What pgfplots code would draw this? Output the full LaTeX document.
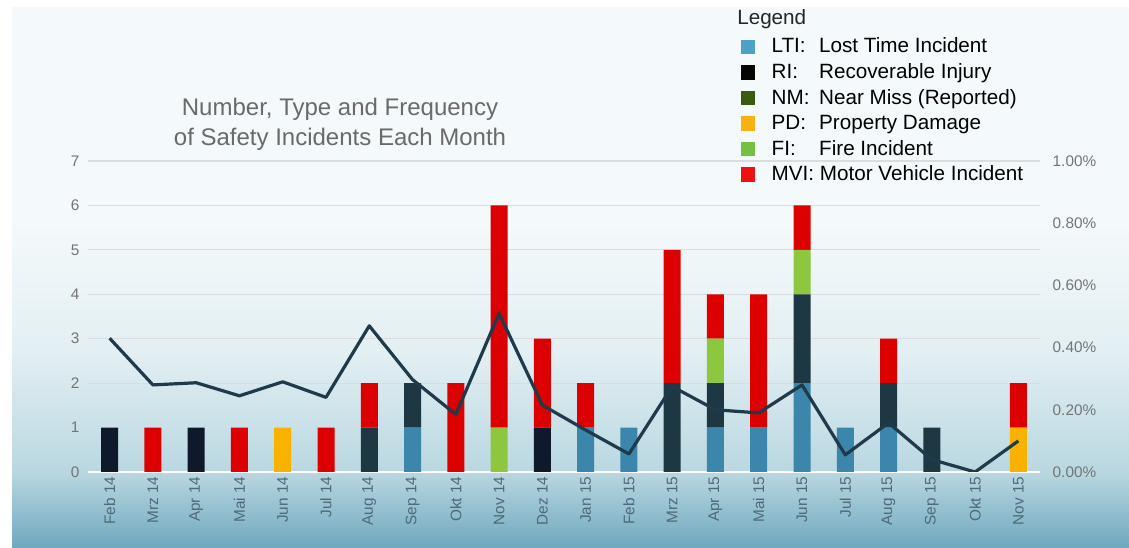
\documentclass[border=0pt]{standalone}
\usepackage{pgfplots}
\pgfplotsset{compat=1.18}
\usepackage{pgfplotstable}
\usepackage{fontspec}
\setmainfont{Liberation Sans}

\definecolor{bgtop}{HTML}{F4F9FB}
\definecolor{bgmid}{HTML}{E2EFF3}
\definecolor{bgmid2}{HTML}{B9D7E1}
\definecolor{bgbot}{HTML}{6EA8BE}
\definecolor{ltibar}{HTML}{3C86AC}
\definecolor{ribar}{HTML}{0E1A2C}
\definecolor{nmbar}{HTML}{1E3843}
\definecolor{pdbar}{HTML}{F9B200}
\definecolor{fibar}{HTML}{8DC63F}
\definecolor{mvibar}{HTML}{DD0000}
\definecolor{linecol}{HTML}{1F3A4A}
\definecolor{ltileg}{HTML}{4FA0C6}
\definecolor{rileg}{HTML}{050505}
\definecolor{nmleg}{HTML}{3B5B13}
\definecolor{pdleg}{HTML}{F8B10F}
\definecolor{fileg}{HTML}{74C043}
\definecolor{mvileg}{HTML}{F01010}
\definecolor{gridcol}{HTML}{D9DDDF}
\definecolor{ytickcol}{HTML}{747474}
\definecolor{xtickcol}{HTML}{4E6A78}
\definecolor{titlecol}{HTML}{6A6A6A}

\pgfdeclareverticalshading{bgshade}{100bp}{color(0bp)=(bgbot); color(25bp)=(bgbot); color(32bp)=(bgmid2); color(43bp)=(bgmid); color(55bp)=(bgtop); color(100bp)=(bgtop)}

\pgfplotstableread{
x LTI RI NM PD FI MVI
0 0 1 0 0 0 0
1 0 0 0 0 0 1
2 0 1 0 0 0 0
3 0 0 0 0 0 1
4 0 0 0 1 0 0
5 0 0 0 0 0 1
6 0 0 1 0 0 1
7 1 0 1 0 0 0
8 0 0 0 0 0 2
9 0 0 0 0 1 5
10 0 1 0 0 0 2
11 1 0 0 0 0 1
12 1 0 0 0 0 0
13 0 0 2 0 0 3
14 1 0 1 0 1 1
15 1 0 0 0 0 3
16 2 0 2 0 1 1
17 1 0 0 0 0 0
18 1 0 1 0 0 1
19 0 0 1 0 0 0
20 0 0 0 0 0 0
21 0 0 0 1 0 1
}\bars

\pgfplotstableread{
x rate
0 0.430
1 0.280
2 0.287
3 0.245
4 0.290
5 0.240
6 0.470
7 0.297
8 0.185
9 0.510
10 0.215
11 0.135
12 0.058
13 0.275
14 0.200
15 0.190
16 0.280
17 0.055
18 0.158
19 0.040
20 0.000
21 0.100
}\rate

\newcommand\tickfont{\fontsize{11.5}{13}\selectfont}

\begin{document}
\begin{tikzpicture}
\fill[white] (0pt,0pt) rectangle (846.75pt,-411pt);
\shade[shading=bgshade] (9pt,-6pt) rectangle (846.75pt,-411pt);

\node[align=center, text=titlecol, font=\fontsize{18}{22.5}\selectfont] at (255pt,-93pt)
  {Number, Type and Frequency\\of Safety Incidents Each Month};
\node[anchor=west, inner sep=0pt, text=black!85, font=\fontsize{15.5}{18}\selectfont] at (552.75pt,-14pt) {Legend};

\begin{axis}[
  at={(66pt,-354pt)}, anchor=south west, scale only axis,
  width=714pt, height=233.25pt,
  xmin=-0.5, xmax=21.5, ymin=0, ymax=7,
  ybar stacked, bar width=12.75pt,
  axis x line=bottom, axis y line=left,
  x axis line style={draw=white, line width=1.5pt, -},
  y axis line style={draw=none},
  major tick length=0pt,
  xtick={0,...,21},
  xticklabels={Feb 14, Mrz 14, Apr 14, Mai 14, Jun 14, Jul 14, Aug 14, Sep 14, Okt 14, Nov 14, Dez 14, Jan 15, Feb 15, Mrz 15, Apr 15, Mai 15, Jun 15, Jul 15, Aug 15, Sep 15, Okt 15, Nov 15},
  x tick label style={rotate=90, anchor=east, font=\tickfont, text=xtickcol},
  ytick={0,...,7},
  yticklabel style={font=\tickfont, text=ytickcol, xshift=-3pt},
  /pgf/number format/assume math mode=true,
  ymajorgrids, grid style={draw=gridcol, line width=0.8pt},
  legend cell align=left,
  legend style={draw=none, fill=none, at={(0.6828,1.405)}, anchor=north west,
    font=\fontsize{15.5}{18}\selectfont, row sep=2.55pt, inner sep=0pt},
  legend image code/.code={\fill[#1] (2pt,-5pt) rectangle (11.75pt,5pt); \path[draw=none, fill=none] (0pt,0pt) rectangle (23pt,0.1pt);},
]
\addplot[fill=ltibar, draw=none, forget plot] table[x=x, y=LTI]{\bars};
\addplot[fill=ribar, draw=none, forget plot] table[x=x, y=RI]{\bars};
\addplot[fill=nmbar, draw=none, forget plot] table[x=x, y=NM]{\bars};
\addplot[fill=pdbar, draw=none, forget plot] table[x=x, y=PD]{\bars};
\addplot[fill=fibar, draw=none, forget plot] table[x=x, y=FI]{\bars};
\addplot[fill=mvibar, draw=none, forget plot] table[x=x, y=MVI]{\bars};
\addlegendimage{ltileg}\addlegendentry{\makebox[2.3em][l]{LTI:}Lost Time Incident}
\addlegendimage{rileg}\addlegendentry{\makebox[2.3em][l]{RI:}Recoverable Injury}
\addlegendimage{nmleg}\addlegendentry{\makebox[2.3em][l]{NM:}Near Miss (Reported)}
\addlegendimage{pdleg}\addlegendentry{\makebox[2.3em][l]{PD:}Property Damage}
\addlegendimage{fileg}\addlegendentry{\makebox[2.3em][l]{FI:}Fire Incident}
\addlegendimage{mvileg}\addlegendentry{MVI: Motor Vehicle Incident}
\end{axis}

\begin{axis}[
  at={(66pt,-354pt)}, anchor=south west, scale only axis,
  width=714pt, height=233.25pt,
  xmin=-0.5, xmax=21.5, ymin=0, ymax=1,
  axis x line=none, axis y line*=right,
  y axis line style={draw=none},
  major tick length=0pt,
  ytick={0,0.2,0.4,0.6,0.8,1},
  yticklabel={\pgfmathprintnumber[fixed,fixed zerofill,precision=2]{\tick}\%},
  /pgf/number format/assume math mode=true,
  yticklabel style={font=\tickfont, text=ytickcol, xshift=6pt},
]
\addplot[color=linecol, line width=2.4pt, line join=round, mark=none] table[x=x, y=rate]{\rate};
\end{axis}
\end{tikzpicture}
\end{document}
